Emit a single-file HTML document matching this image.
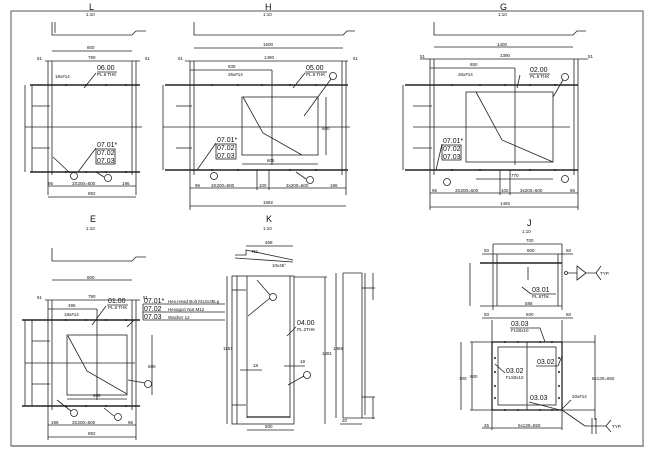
<!DOCTYPE html>
<html><head><meta charset="utf-8"><style>
html,body{margin:0;padding:0;background:#fff;}
svg{display:block;}
text{font-family:"Liberation Sans",sans-serif;fill:#111;}
.s{font-size:4.5px;}
.m{font-size:7px;}
.t{font-size:9px;}
</style></head><body>
<svg width="653" height="459" viewBox="0 0 653 459" xmlns="http://www.w3.org/2000/svg" stroke="#222" stroke-width="0.8" fill="none">
<rect x="11" y="11" width="632" height="435" stroke="#555" stroke-width="1"/>
<rect x="12" y="445" width="632" height="2" stroke="none" fill="#999"/>

<!-- ===== L ===== -->
<g>
<text class="t" x="89" y="10" stroke="none">L</text><text class="s" x="86" y="16" stroke="none">1:10</text>
<path d="M52 22 L52 35 L132 35 L136 31 L146 31"/><path d="M55 22 L55 33"/><line x1="52" y1="51" x2="132" y2="51"/><text class="s" x="87" y="49" stroke="none">800</text>
<line x1="45" y1="61" x2="140" y2="61"/><text class="s" x="88" y="59" stroke="none">790</text><text class="s" x="37" y="60" stroke="none">51</text><text class="s" x="145" y="60" stroke="none">51</text>
<line x1="48" y1="61" x2="48" y2="195"/><line x1="52" y1="61" x2="52" y2="175"/><line x1="132" y1="61" x2="132" y2="175"/><line x1="136" y1="61" x2="136" y2="195"/>
<line x1="30" y1="85" x2="140" y2="85" stroke-width="1.4"/><line x1="30" y1="172" x2="140" y2="172" stroke-width="1.4"/>
<line x1="25" y1="85" x2="25" y2="172"/><line x1="32" y1="85" x2="32" y2="172"/>
<line x1="32" y1="106" x2="50" y2="106"/><line x1="25" y1="127" x2="142" y2="127"/><line x1="32" y1="148" x2="50" y2="148"/>
<text class="s" x="55" y="78" stroke="none">18x#14</text><text class="m" x="97" y="70" stroke="none">06.00</text><text class="s" x="97" y="76" stroke="none">PL.6 THK</text>
<line x1="97" y1="72" x2="117" y2="72"/><line x1="96" y1="73" x2="84" y2="88"/>
<text class="m" x="97" y="147" stroke="none">07.01*</text><text class="m" x="97" y="155" stroke="none">07.02</text><text class="m" x="97" y="163" stroke="none">07.03</text>
<rect x="96" y="149" width="19" height="15"/><line x1="96" y1="148" x2="78" y2="172"/><line x1="53" y1="157" x2="70" y2="173"/>
<circle cx="74" cy="176" r="3.5"/><circle cx="108" cy="178" r="3.5"/><line x1="104" y1="177" x2="96" y2="172"/>
<line x1="48" y1="186" x2="136" y2="186"/><text class="s" x="72" y="185" stroke="none">3X200=600</text><text class="s" x="48" y="185" stroke="none">96</text><text class="s" x="122" y="185" stroke="none">196</text>
<line x1="48" y1="197" x2="136" y2="197"/><text class="s" x="88" y="195" stroke="none">892</text>
</g>

<!-- ===== H ===== -->
<g>
<text class="t" x="265" y="10" stroke="none">H</text><text class="s" x="263" y="16" stroke="none">1:10</text>
<path d="M194 22 L194 35 L343 35 L347 31 L355 31"/><line x1="194" y1="48" x2="343" y2="48"/><text class="s" x="263" y="46" stroke="none">1500</text>
<line x1="185" y1="61" x2="348" y2="61"/><text class="s" x="264" y="59" stroke="none">1490</text><text class="s" x="178" y="60" stroke="none">51</text><text class="s" x="353" y="60" stroke="none">51</text>
<line x1="190" y1="61" x2="190" y2="210"/><line x1="194" y1="61" x2="194" y2="175"/><line x1="342" y1="61" x2="342" y2="175"/><line x1="346" y1="61" x2="346" y2="195"/>
<line x1="190" y1="70" x2="272" y2="70"/><text class="s" x="228" y="68" stroke="none">835</text>
<line x1="165" y1="85" x2="348" y2="85" stroke-width="1.4"/><line x1="165" y1="170" x2="348" y2="170" stroke-width="1.4"/>
<line x1="163" y1="85" x2="163" y2="170"/><line x1="176" y1="106" x2="192" y2="106"/><line x1="163" y1="127" x2="350" y2="127"/><line x1="176" y1="148" x2="192" y2="148"/>
<rect x="242" y="97" width="76" height="58"/><line x1="272" y1="70" x2="272" y2="165"/><path d="M243 97 L263 133 L302 155"/>
<line x1="242" y1="164" x2="318" y2="164"/><text class="s" x="267" y="162" stroke="none">606</text>
<line x1="326" y1="97" x2="326" y2="155"/><text class="s" x="322" y="130" stroke="none">600</text>
<text class="s" x="228" y="76" stroke="none">26x#14</text><text class="m" x="306" y="70" stroke="none">05.00</text><text class="s" x="306" y="76" stroke="none">PL.6 THK</text>
<line x1="305" y1="72" x2="327" y2="72"/><line x1="305" y1="73" x2="293" y2="88"/><circle cx="333" cy="76" r="3.5"/><line x1="331" y1="79" x2="304" y2="116"/>
<text class="m" x="217" y="142" stroke="none">07.01*</text><text class="m" x="217" y="150" stroke="none">07.02</text><text class="m" x="217" y="158" stroke="none">07.03</text>
<rect x="216" y="144" width="20" height="15"/><line x1="216" y1="143" x2="197" y2="170"/>
<circle cx="214" cy="176" r="3.5"/><circle cx="310" cy="180" r="3.5"/><line x1="306" y1="179" x2="296" y2="172"/>
<line x1="190" y1="188" x2="346" y2="188"/><line x1="257" y1="170" x2="257" y2="190"/><line x1="269" y1="170" x2="269" y2="190"/>
<text class="s" x="211" y="187" stroke="none">3X200=600</text><text class="s" x="286" y="187" stroke="none">3x200=600</text><text class="s" x="259" y="187" stroke="none">100</text><text class="s" x="195" y="187" stroke="none">96</text><text class="s" x="330" y="187" stroke="none">196</text>
<line x1="190" y1="206" x2="346" y2="206"/><text class="s" x="263" y="204" stroke="none">1592</text>
</g>

<!-- ===== G ===== -->
<g>
<text class="t" x="500" y="10" stroke="none">G</text><text class="s" x="498" y="16" stroke="none">1:10</text>
<path d="M434 22 L434 35 L573 35 L577 31 L586 31"/><line x1="434" y1="47" x2="573" y2="47"/><text class="s" x="497" y="46" stroke="none">1400</text>
<line x1="420" y1="59" x2="588" y2="59"/><text class="s" x="500" y="57" stroke="none">1390</text><text class="s" x="420" y="58" stroke="none">51</text><text class="s" x="588" y="58" stroke="none">51</text>
<line x1="430" y1="59" x2="430" y2="210"/><line x1="434" y1="59" x2="434" y2="175"/><line x1="574" y1="59" x2="574" y2="175"/><line x1="578" y1="59" x2="578" y2="210"/>
<line x1="430" y1="68" x2="515" y2="68"/><text class="s" x="470" y="66" stroke="none">850</text>
<line x1="405" y1="85" x2="578" y2="85" stroke-width="1.4"/><line x1="405" y1="170" x2="578" y2="170" stroke-width="1.4"/>
<line x1="403" y1="85" x2="403" y2="170"/><line x1="413" y1="106" x2="432" y2="106"/><line x1="413" y1="127" x2="570" y2="127"/><line x1="413" y1="148" x2="432" y2="148"/>
<rect x="466" y="92" width="87" height="70"/><line x1="515" y1="68" x2="515" y2="165"/><path d="M476 92 L502 140 L553 162"/>
<line x1="476" y1="179" x2="553" y2="179"/><text class="s" x="511" y="177" stroke="none">770</text>
<text class="s" x="458" y="76" stroke="none">26x#14</text><text class="m" x="530" y="72" stroke="none">02.00</text><text class="s" x="530" y="78" stroke="none">PL.6 THK</text>
<line x1="529" y1="74" x2="550" y2="74"/><line x1="520" y1="75" x2="517" y2="88"/><circle cx="565" cy="77" r="3.5"/><line x1="563" y1="80" x2="553" y2="97"/>
<text class="m" x="443" y="143" stroke="none">07.01*</text><text class="m" x="443" y="151" stroke="none">07.02</text><text class="m" x="443" y="159" stroke="none">07.03</text>
<rect x="442" y="145" width="19" height="15"/><line x1="442" y1="144" x2="436" y2="170"/>
<circle cx="447" cy="182" r="3.5"/><circle cx="565" cy="179" r="3.5"/>
<line x1="430" y1="193" x2="578" y2="193"/><line x1="500" y1="170" x2="500" y2="195"/><line x1="510" y1="170" x2="510" y2="195"/>
<text class="s" x="455" y="192" stroke="none">3X200=600</text><text class="s" x="520" y="192" stroke="none">3x200=600</text><text class="s" x="501" y="192" stroke="none">100</text><text class="s" x="432" y="192" stroke="none">96</text><text class="s" x="570" y="192" stroke="none">96</text>
<line x1="430" y1="207" x2="578" y2="207"/><text class="s" x="500" y="205" stroke="none">1492</text>
</g>

<!-- ===== E ===== -->
<g>
<text class="t" x="90" y="222" stroke="none">E</text><text class="s" x="86" y="230" stroke="none">1:10</text>
<path d="M52 248 L52 261 L132 261 L136 257 L146 257"/><line x1="52" y1="280" x2="132" y2="280"/><text class="s" x="87" y="279" stroke="none">800</text>
<line x1="45" y1="300" x2="140" y2="300"/><text class="s" x="88" y="298" stroke="none">790</text><text class="s" x="37" y="299" stroke="none">51</text><text class="s" x="143" y="299" stroke="none">51</text>
<line x1="48" y1="300" x2="48" y2="440"/><line x1="52" y1="300" x2="52" y2="410"/><line x1="132" y1="300" x2="132" y2="410"/><line x1="136" y1="300" x2="136" y2="440"/>
<line x1="48" y1="309" x2="97" y2="309"/><text class="s" x="68" y="307" stroke="none">495</text>
<line x1="22" y1="320" x2="140" y2="320" stroke-width="1.4"/><line x1="22" y1="406" x2="140" y2="406" stroke-width="1.4"/>
<line x1="25" y1="320" x2="25" y2="406"/><line x1="32" y1="320" x2="32" y2="406"/>
<line x1="32" y1="341" x2="50" y2="341"/><line x1="25" y1="363" x2="135" y2="363"/><line x1="32" y1="384" x2="50" y2="384"/>
<rect x="67" y="335" width="60" height="60"/><line x1="97" y1="309" x2="97" y2="400"/><path d="M68 336 L87 371 L127 394"/>
<line x1="67" y1="399" x2="127" y2="399"/><text class="s" x="93" y="397" stroke="none">606</text>
<line x1="152" y1="335" x2="152" y2="395"/><text class="s" x="148" y="368" stroke="none">600</text>
<text class="s" x="64" y="316" stroke="none">18x#14</text><text class="m" x="108" y="303" stroke="none">01.00</text><text class="s" x="108" y="309" stroke="none">PL.6 THK</text>
<line x1="107" y1="305" x2="128" y2="305"/><line x1="106" y1="306" x2="92" y2="325"/><circle cx="148" cy="384" r="3.5"/><line x1="145" y1="383" x2="128" y2="380"/>
<text class="m" x="144" y="303" stroke="none">07.01*</text><text class="s" x="168" y="303" stroke="none">Hex.Head Bolt M12x35Lg</text>
<text class="m" x="144" y="311" stroke="none">07.02</text><text class="s" x="168" y="311" stroke="none">Hexagon Nut M12</text>
<text class="m" x="144" y="319" stroke="none">07.03</text><text class="s" x="168" y="319" stroke="none">Washer  12</text>
<line x1="143" y1="304" x2="225" y2="304"/><line x1="143" y1="312" x2="225" y2="312"/><line x1="143" y1="320" x2="225" y2="320"/><line x1="143" y1="304" x2="143" y2="320"/><line x1="134" y1="320" x2="127" y2="327"/>
<circle cx="74" cy="413" r="3.5"/><circle cx="118" cy="417" r="3.5"/><line x1="71" y1="411" x2="57" y2="400"/><line x1="114" y1="416" x2="104" y2="408"/>
<line x1="48" y1="425" x2="136" y2="425"/><text class="s" x="72" y="424" stroke="none">3X200=600</text><text class="s" x="51" y="424" stroke="none">196</text><text class="s" x="128" y="424" stroke="none">96</text>
<line x1="48" y1="437" x2="136" y2="437"/><text class="s" x="88" y="435" stroke="none">892</text>
</g>

<!-- ===== K ===== -->
<g>
<text class="t" x="266" y="222" stroke="none">K</text><text class="s" x="263" y="230" stroke="none">1:10</text>
<line x1="246" y1="246" x2="293" y2="246"/><text class="s" x="265" y="244" stroke="none">468</text>
<path d="M235 255 L246 255 L246 250 L293 260"/><line x1="235" y1="258" x2="293" y2="262"/><text class="s" x="272" y="267" stroke="none">10x45°</text><text class="s" x="252" y="253" stroke="none">R2</text>
<rect x="232" y="276" width="62" height="148"/>
<line x1="247" y1="276" x2="247" y2="418"/><line x1="290" y1="276" x2="290" y2="418"/><line x1="237" y1="276" x2="237" y2="424"/>
<line x1="232" y1="290" x2="246" y2="290"/><line x1="232" y1="405" x2="246" y2="405"/><line x1="247" y1="417" x2="290" y2="417" stroke-width="1.3"/>
<line x1="325" y1="277" x2="325" y2="424"/><line x1="294" y1="277" x2="327" y2="277"/><text class="s" x="322" y="355" stroke="none">1381</text>
<line x1="227" y1="276" x2="227" y2="424"/><text class="s" x="223" y="350" stroke="none">1157</text>
<circle cx="273" cy="297" r="3.5"/><line x1="270" y1="295" x2="257" y2="280"/><line x1="270" y1="298" x2="248" y2="316"/>
<text class="m" x="297" y="325" stroke="none">04.00</text><text class="s" x="297" y="331" stroke="none">PL.2THK</text><line x1="296" y1="327" x2="287" y2="336"/>
<circle cx="307" cy="375" r="3.5"/><line x1="304" y1="376" x2="288" y2="385"/>
<line x1="240" y1="370" x2="262" y2="370"/><line x1="284" y1="366" x2="305" y2="366"/><text class="s" x="253" y="367" stroke="none">18</text><text class="s" x="300" y="363" stroke="none">18</text>
<line x1="247" y1="430" x2="294" y2="430"/><text class="s" x="265" y="428" stroke="none">500</text>
<!-- side profile -->
<rect x="343" y="273" width="32" height="146" stroke="none" fill="none"/>
<line x1="343" y1="273" x2="343" y2="418"/><line x1="343" y1="273" x2="362" y2="273"/><line x1="362" y1="273" x2="362" y2="418"/><line x1="365" y1="273" x2="365" y2="415"/><line x1="362" y1="288" x2="375" y2="288"/><line x1="362" y1="397" x2="375" y2="397"/><line x1="343" y1="418" x2="375" y2="418"/>
<line x1="373" y1="273" x2="373" y2="300"/><line x1="373" y1="397" x2="373" y2="419"/><line x1="336" y1="273" x2="336" y2="418"/><text class="s" x="333" y="350" stroke="none">1368</text>
<line x1="340" y1="424" x2="362" y2="424"/><text class="s" x="342" y="422" stroke="none">20</text>
</g>

<!-- ===== J ===== -->
<g>
<text class="t" x="527" y="226" stroke="none">J</text><text class="s" x="522" y="233" stroke="none">1:10</text>
<line x1="493" y1="244" x2="562" y2="244"/><text class="s" x="526" y="242" stroke="none">700</text>
<line x1="482" y1="254" x2="573" y2="254"/><text class="s" x="527" y="252" stroke="none">600</text><text class="s" x="484" y="252" stroke="none">50</text><text class="s" x="566" y="252" stroke="none">50</text>
<line x1="493" y1="244" x2="493" y2="310"/><line x1="562" y1="244" x2="562" y2="310"/><line x1="497" y1="254" x2="497" y2="306"/><line x1="558" y1="254" x2="558" y2="306"/>
<line x1="480" y1="263" x2="562" y2="263" stroke-width="1.6"/><line x1="480" y1="306" x2="562" y2="306"/>
<line x1="470" y1="263" x2="470" y2="306"/><line x1="528" y1="267" x2="528" y2="280"/>
<text class="m" x="532" y="292" stroke="none">03.01</text><text class="s" x="532" y="298" stroke="none">PL.6Thk.</text><line x1="531" y1="294" x2="556" y2="294"/><line x1="531" y1="294" x2="522" y2="287"/>
<text class="s" x="525" y="305" stroke="none">588</text>
<circle cx="566" cy="273" r="1.5"/><path d="M567 273 L577 273 M577 266 L577 280 L586 273 Z M586 273 L596 273 M596 273 L601 266 M596 273 L601 280"/><text class="s" x="600" y="275" stroke="none">TYP.</text>
<line x1="492" y1="320" x2="492" y2="430"/><line x1="562" y1="320" x2="562" y2="430"/>
<line x1="482" y1="318" x2="573" y2="318"/><text class="s" x="526" y="316" stroke="none">600</text><text class="s" x="484" y="316" stroke="none">50</text><text class="s" x="566" y="316" stroke="none">50</text>
<rect x="492" y="342" width="70" height="68" stroke-width="1.3"/><rect x="498" y="347" width="58" height="58"/>
<line x1="527" y1="342" x2="527" y2="410"/><line x1="470" y1="342" x2="595" y2="342"/><line x1="470" y1="410" x2="595" y2="410"/>
<line x1="461" y1="342" x2="461" y2="410"/><line x1="472" y1="342" x2="472" y2="410"/><text class="s" x="459" y="380" stroke="none">700</text><text class="s" x="470" y="378" stroke="none">600</text>
<line x1="595" y1="335" x2="595" y2="420"/><text class="s" x="592" y="380" stroke="none">5x130=650</text>
<text class="m" x="511" y="326" stroke="none">03.03</text><text class="s" x="511" y="332" stroke="none">FL50x10</text><path d="M510 328 L540 328 L545 342"/>
<text class="m" x="537" y="364" stroke="none">03.02</text><line x1="536" y1="366" x2="558" y2="366"/><line x1="558" y1="366" x2="562" y2="356"/>
<text class="m" x="506" y="373" stroke="none">03.02</text><text class="s" x="506" y="379" stroke="none">FL50x10</text><line x1="505" y1="373" x2="495" y2="364"/>
<text class="m" x="530" y="400" stroke="none">03.03</text><line x1="529" y1="402" x2="560" y2="410"/>
<text class="s" x="572" y="398" stroke="none">20x#14</text><line x1="571" y1="400" x2="561" y2="410"/>
<line x1="562" y1="410" x2="585" y2="426"/><line x1="585" y1="426" x2="606" y2="426"/><path d="M592 418 L592 434 M596 418 L596 434 M606 426 L611 420 M606 426 L611 432"/><text class="s" x="612" y="428" stroke="none">TYP.</text>
<line x1="482" y1="428" x2="562" y2="428"/><text class="s" x="518" y="427" stroke="none">5x130=650</text><text class="s" x="484" y="427" stroke="none">25</text>
</g>

<!-- bolt dots -->
<g fill="#222" stroke="none">
<circle cx="66" cy="85" r="1"/><circle cx="86" cy="85" r="1"/><circle cx="106" cy="85" r="1"/><circle cx="126" cy="85" r="1"/>
<circle cx="66" cy="172" r="1"/><circle cx="86" cy="172" r="1"/><circle cx="106" cy="172" r="1"/><circle cx="126" cy="172" r="1"/>
<circle cx="212" cy="85" r="1"/><circle cx="238" cy="85" r="1"/><circle cx="262" cy="85" r="1"/><circle cx="290" cy="85" r="1"/><circle cx="316" cy="85" r="1"/>
<circle cx="212" cy="170" r="1"/><circle cx="238" cy="170" r="1"/><circle cx="290" cy="170" r="1"/><circle cx="316" cy="170" r="1"/>
<circle cx="452" cy="85" r="1"/><circle cx="480" cy="85" r="1"/><circle cx="505" cy="85" r="1"/><circle cx="530" cy="85" r="1"/><circle cx="555" cy="85" r="1"/>
<circle cx="452" cy="170" r="1"/><circle cx="480" cy="170" r="1"/><circle cx="530" cy="170" r="1"/><circle cx="555" cy="170" r="1"/>
<circle cx="66" cy="320" r="1"/><circle cx="86" cy="320" r="1"/><circle cx="106" cy="320" r="1"/><circle cx="126" cy="320" r="1"/>
<circle cx="66" cy="406" r="1"/><circle cx="86" cy="406" r="1"/><circle cx="106" cy="406" r="1"/><circle cx="126" cy="406" r="1"/>
<circle cx="505" cy="342" r="1"/><circle cx="518" cy="342" r="1"/><circle cx="540" cy="342" r="1"/><circle cx="552" cy="342" r="1"/>
<circle cx="505" cy="410" r="1"/><circle cx="518" cy="410" r="1"/><circle cx="540" cy="410" r="1"/><circle cx="552" cy="410" r="1"/>
<circle cx="495" cy="358" r="1"/><circle cx="495" cy="372" r="1"/><circle cx="495" cy="386" r="1"/><circle cx="495" cy="398" r="1"/>
<circle cx="559" cy="358" r="1"/><circle cx="559" cy="372" r="1"/><circle cx="559" cy="386" r="1"/><circle cx="559" cy="398" r="1"/>
</g>
</svg>
</body></html>
